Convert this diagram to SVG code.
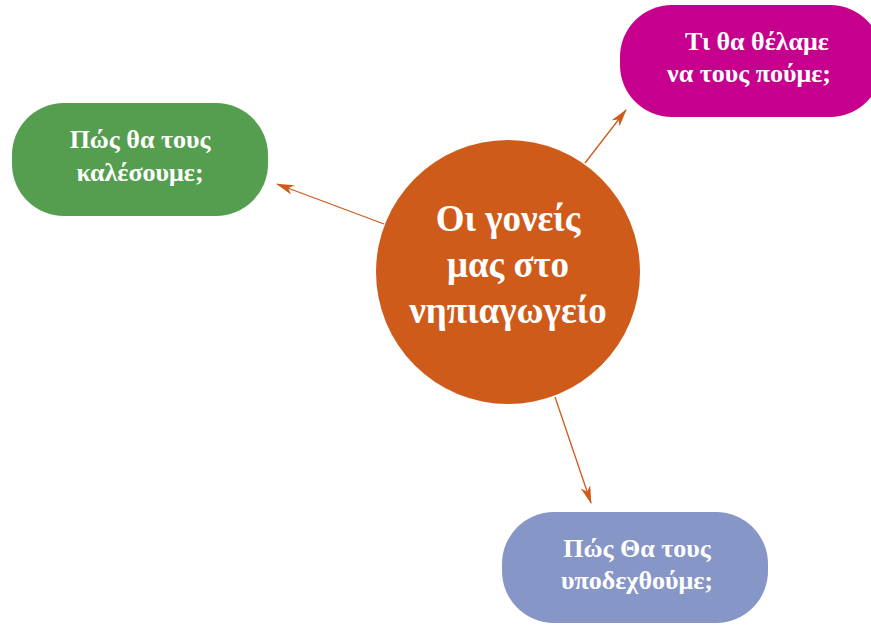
<svg xmlns="http://www.w3.org/2000/svg" width="871" height="626" viewBox="0 0 871 626">
<style>
text{font-family:"Liberation Serif","DejaVu Serif",serif;font-weight:bold;fill:#ffffff;text-anchor:middle}
.s{font-size:26px}
.c{font-size:37px}
.ln{stroke:#D05A1A;stroke-width:1.3;fill:none;marker-end:url(#ah)}
</style>
<defs>
<marker id="ah" viewBox="0 0 18 10" refX="17" refY="5" markerWidth="18" markerHeight="10" markerUnits="userSpaceOnUse" orient="auto">
<path d="M0,0 L18,5 L0,10 L5,5 Z" fill="#D05A1A"/>
</marker>
</defs>
<rect width="871" height="626" fill="#ffffff"/>
<g id="connectors">
<line class="ln" x1="384" y1="224" x2="277" y2="184"/>
<line class="ln" x1="585" y1="163" x2="626" y2="110"/>
<line class="ln" x1="555" y1="397" x2="591" y2="503"/>
</g>
<g id="center">
<circle cx="508" cy="272" r="132" fill="#CF5B1B"/>
<text class="c" x="508" y="231">Οι γονείς</text>
<text class="c" x="508" y="277">μας στο</text>
<text class="c" x="508" y="323">νηπιαγωγείο</text>
</g>
<g id="n-green">
<rect x="12" y="103" width="256" height="113" rx="52" fill="#559E4F"/>
<text class="s" x="140" y="148">Πώς θα τους</text>
<text class="s" x="140" y="181">καλέσουμε;</text>
</g>
<g id="n-magenta">
<rect x="620" y="5" width="262" height="112" rx="52" fill="#C6008C"/>
<text class="s" x="757" y="50">Τι θα θέλαμε</text>
<text class="s" x="749" y="82">να τους πούμε;</text>
</g>
<g id="n-blue">
<rect x="502" y="512" width="266" height="111" rx="52" fill="#8696C6"/>
<text class="s" x="637" y="557">Πώς Θα τους</text>
<text class="s" x="637" y="589">υποδεχθούμε;</text>
</g>
</svg>
